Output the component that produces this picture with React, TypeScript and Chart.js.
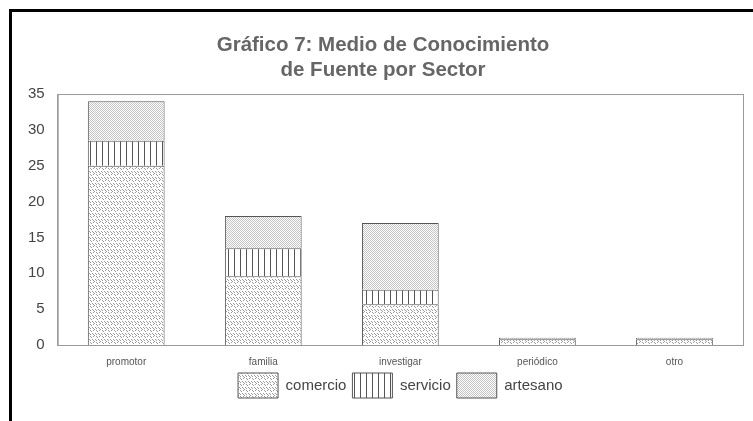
import React, { useEffect, useRef } from "react";
import { Chart, registerables } from "chart.js";

Chart.register(...registerables);

const categories = ["promotor", "familia", "investigar", "periódico", "otro"];
const comercio = [25, 9.6, 5.7, 0.8, 0.8];
const servicio = [3.5, 3.9, 2, 0, 0];
const artesano = [5.5, 4.5, 9.3, 0.2, 0.2];
const seriesNames = ["comercio", "servicio", "artesano"];
const titleLines = ["Gráfico 7: Medio de Conocimiento", "de Fuente por Sector"];

function makePattern(kind: string): CanvasPattern | string {
  const c = document.createElement("canvas");
  const size = kind === "servicio" ? 6 : kind === "artesano" ? 2 : 6;
  c.width = size;
  c.height = size;
  const g = c.getContext("2d")!;
  g.fillStyle = "#ffffff";
  g.fillRect(0, 0, size, size);
  if (kind === "servicio") {
    g.fillStyle = "#555555";
    g.fillRect(0, 0, 1, size);
  } else if (kind === "artesano") {
    g.fillStyle = "#c4c4c4";
    g.fillRect(0, 0, 1, 1);
    g.fillRect(1, 1, 1, 1);
  } else {
    g.fillStyle = "#9a9a9a";
    const pts = [[0, 0], [1, 1], [3, 0], [4, 5], [2, 3], [3, 4], [5, 3], [0, 4]];
    pts.forEach(([x, y]) => g.fillRect(x, y, 1, 1));
  }
  const ctx = document.createElement("canvas").getContext("2d")!;
  return ctx.createPattern(c, "repeat") || "#ccc";
}

const boxPlugin = {
  id: "boxPlugin",
  beforeDatasetsDraw(chart: any) {
    const { ctx, chartArea } = chart;
    ctx.save();
    ctx.strokeStyle = "#9a9a9a";
    ctx.lineWidth = 1;
    ctx.strokeRect(chartArea.left + 0.5, chartArea.top + 0.5, chartArea.right - chartArea.left, chartArea.bottom - chartArea.top);
    ctx.restore();
  },
  afterDraw(chart: any) {
    const { ctx } = chart;
    ctx.save();
    ctx.fillStyle = "#000";
    ctx.fillRect(9, 9, 753, 3);
    ctx.fillRect(9, 9, 3, 421);
    ctx.restore();
  },
};

export default function App() {
  const ref = useRef<HTMLCanvasElement>(null);
  useEffect(() => {
    document.body.style.margin = "0";
    const pats = seriesNames.map((n) => makePattern(n));
    const values = [comercio, servicio, artesano];
    const chart = new Chart(ref.current!, {
      type: "bar",
      data: {
        labels: categories,
        datasets: seriesNames.map((n, i) => ({
          label: n,
          data: values[i],
          backgroundColor: pats[i] as any,
          borderColor: "#555555",
          borderWidth: 1,
          barPercentage: 0.56,
          categoryPercentage: 1,
        })),
      },
      options: {
        animation: false,
        responsive: false,
        layout: { padding: { top: 33, left: 23, right: 10, bottom: 13 } },
        plugins: {
          title: {
            display: true,
            text: titleLines,
            color: "#666666",
            font: { family: "Arial, 'Liberation Sans'", size: 20.5, weight: "bold", lineHeight: 1.22 },
            padding: { top: 0, bottom: 11 },
          },
          legend: {
            position: "bottom",
            fullSize: false,
            labels: {
              boxWidth: 40,
              boxHeight: 25,
              color: "#444",
              font: { family: "Arial, 'Liberation Sans'", size: 15 },
              padding: 6,
            },
          },
          tooltip: { enabled: false },
        },
        scales: {
          x: {
            stacked: true,
            grid: { display: false },
            border: { display: true, color: "#777" },
            ticks: { color: "#555", font: { family: "'Liberation Sans Narrow', Arial", size: 10, lineHeight: 0.1 }, padding: 9 },
            afterFit: (scale: any) => {
              scale.height = scale.height - 5;
            },
          },
          y: {
            stacked: true,
            min: 0,
            max: 35,
            grid: { display: false },
            border: { display: true, color: "#9a9a9a" },
            ticks: { stepSize: 5, color: "#444", font: { family: "Arial, 'Liberation Sans'", size: 15 }, padding: 5 },
          },
        },
      },
      plugins: [boxPlugin],
    });
    return () => chart.destroy();
  }, []);
  return <canvas ref={ref} width={753} height={421} style={{ display: "block" }} />;
}
